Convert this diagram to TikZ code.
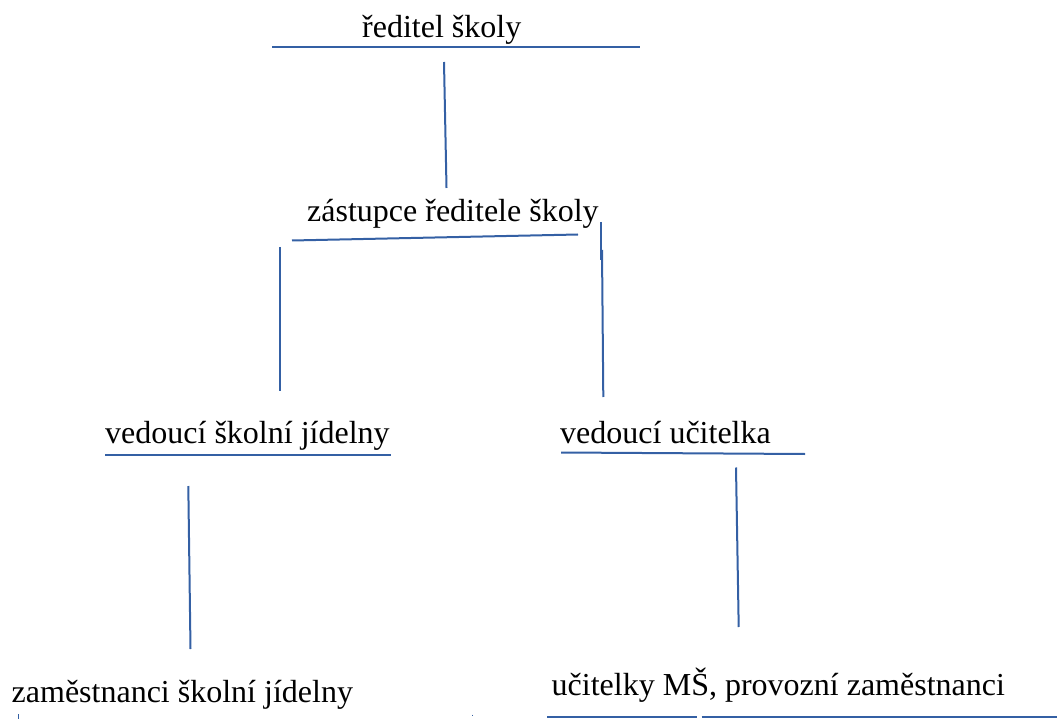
\documentclass[tikz,border=0pt]{standalone}
\usepackage{fontspec}
\setmainfont{Liberation Serif}
\usepackage{xcolor}
\usepackage{tikz}
\usetikzlibrary{positioning,calc}
\definecolor{linkblue}{RGB}{52,96,164}

\begin{document}
\begin{tikzpicture}[x=1pt,y=-1pt,
    lbl/.style={anchor=base west, inner sep=0pt, font=\fontsize{32}{36}\selectfont},
    ln/.style={draw=linkblue, line width=2pt}]
    \useasboundingbox (0,0) rectangle (1057,719);

    % Director
    \node[lbl] (reditel) at (362,38) {ředitel školy};
    \draw[ln] (272,47) -- (640,47);
    \draw[ln] (444,62) -- (446.5,188);

    % Deputy
    \node[lbl] (zastupce) at (307,222) {zástupce ředitele školy};
    \draw[ln] (292,240.5) -- (578,234.5);
    \draw[ln] (280,247) -- (280,391); % to kitchen
    \draw[ln] (601.3,222) -- (601.3,260);
    \draw[ln] (602,250) -- (603.3,397); % to teachers

    % Kitchen head
    \node[lbl] (vedjid) at (105,443) {vedoucí školní jídelny};
    \draw[ln] (105,455) -- (391,455);
    \draw[ln] (188.3,486) -- (190.5,649);

    % Head teacher
    \node[lbl] (veduc) at (560,443) {vedoucí učitelka};
    \draw[ln] (561,452.5) -- (805,454);
    \draw[ln] (736,467.5) -- (738.7,627);

    % Staff
    \node[lbl] (zamjid) at (11.5,702) {zaměstnanci školní jídelny};
    \draw[ln, line width=1pt] (18,714) -- (18,719);
    \draw[ln, line width=0.6pt] (472,714.5) -- (472,715.5);

    \node[lbl] (ucitelky) at (551.5,695) {učitelky MŠ, provozní zaměstnanci};
    \draw[ln] (547,717.3) -- (697,717.3);
    \draw[ln] (701.5,717.3) -- (1057,717.3);
\end{tikzpicture}
\end{document}
